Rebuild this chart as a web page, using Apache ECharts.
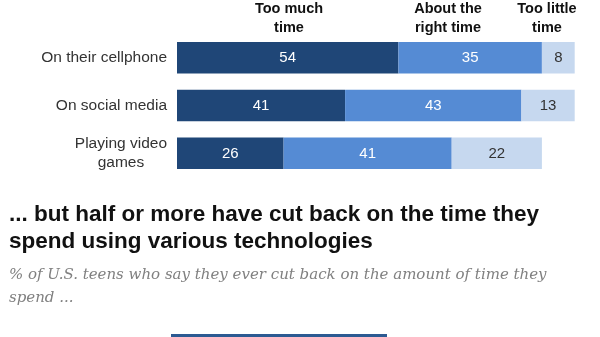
<!DOCTYPE html>
<html>
<head>
<meta charset="utf-8">
<script src="https://cdn.jsdelivr.net/npm/echarts@6/dist/echarts.min.js"></script>
<style>html,body{margin:0;padding:0;background:#fff;}#c{width:600px;height:337px;}</style>
</head>
<body>
<div id="c"></div>
<script>
const categories = ['On their cellphone', 'On social media', 'Playing video\ngames'];
const seriesNames = ['Too much\ntime', 'About the\nright time', 'Too little\ntime'];
const tooMuch = [54, 41, 26];
const aboutRight = [35, 43, 41];
const tooLittle = [8, 13, 22];
const headerCenters = [289, 448, 547];
const titleText = '... but half or more have cut back on the time they\nspend using various technologies';
const subText = '% of U.S. teens who say they ever cut back on the amount of time they\nspend ...';

const chart = echarts.init(document.getElementById('c'), null, {renderer: 'canvas'});
const colors = ['#1f4677', '#558bd4', '#c6d8ef'];
const labelColors = ['#ffffff', '#ffffff', '#333333'];
const datasets = [tooMuch, aboutRight, tooLittle];
const sans = 'Liberation Sans, Arial, sans-serif';

const series = datasets.map((d, i) => ({
  name: seriesNames[i],
  type: 'bar',
  stack: 'total',
  data: d,
  barWidth: 31.5,
  itemStyle: {color: colors[i]},
  label: {
    show: true, position: 'inside', color: labelColors[i],
    fontFamily: sans, fontSize: 15
  },
  emphasis: {disabled: true},
  animation: false
}));

const graphics = seriesNames.map((n, i) => ({
  type: 'text', x: headerCenters[i], y: -1,
  style: {
    text: n, x: 0, y: 0, textAlign: 'center',
    font: 'bold 14.5px ' + sans, lineHeight: 19, fill: '#111'
  }
}));
graphics.push({
  type: 'rect', shape: {x: 171, y: 334, width: 216, height: 3},
  style: {fill: '#2c5a92'}
});

chart.setOption({
  backgroundColor: '#fff',
  animation: false,
  title: [
    {
      text: titleText, left: 9, top: 201.5, padding: 0,
      textStyle: {fontFamily: sans, fontWeight: 'bold', fontSize: 22.5, lineHeight: 27, color: '#111'}
    },
    {
      text: subText, left: 9, top: 263.5, padding: 0,
      textStyle: {fontFamily: 'DejaVu Serif, serif', fontStyle: 'italic', fontWeight: 'normal', fontSize: 15, lineHeight: 23, color: '#808080'}
    }
  ],
  grid: {left: 177, right: 13, top: 33.7, bottom: 159.7, containLabel: false},
  xAxis: {type: 'value', min: 0, max: 100, show: false},
  yAxis: {
    type: 'category', data: categories, inverse: true,
    axisLine: {show: false}, axisTick: {show: false}, splitLine: {show: false},
    axisLabel: {
      margin: 10, fontFamily: sans, fontSize: 15.5, color: '#333', lineHeight: 18.5,
      formatter: (v) => v.indexOf('\n') >= 0 ? v.split('\n').map(s => '{c|' + s + '}').join('\n') : v,
      rich: {c: {align: 'center', fontFamily: sans, fontSize: 15.5, color: '#333', lineHeight: 18.5}}
    }
  },
  series: series,
  graphic: graphics
});
</script>
</body>
</html>
